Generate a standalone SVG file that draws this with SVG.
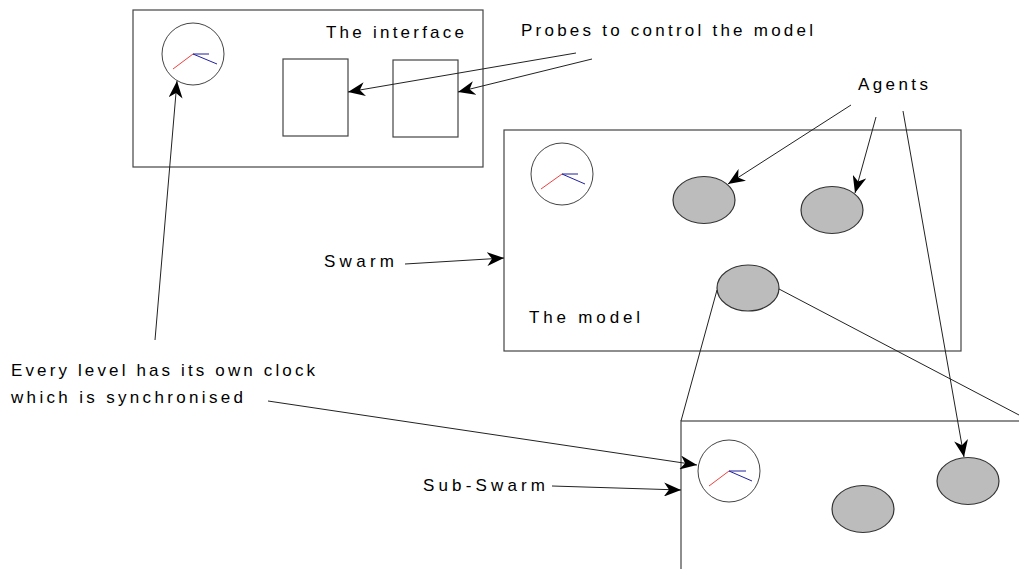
<svg xmlns="http://www.w3.org/2000/svg" width="1019" height="569" viewBox="0 0 1019 569">
<style>
text{font-family:"Liberation Sans",Arial,sans-serif;font-size:17px;fill:#000}
.box{fill:#fff;stroke:#444;stroke-width:1.2}
.clock{fill:#fff;stroke:#444;stroke-width:1}
.red{stroke:#f04040;stroke-width:1}
.blue{stroke:#2020a0;stroke-width:1}
.agent{fill:#bcbcbc;stroke:#333;stroke-width:1.2}
.conn line{stroke:#222;stroke-width:1;fill:none}
.arr{marker-end:url(#ah)}
</style>
<defs>
<marker id="ah" markerUnits="userSpaceOnUse" markerWidth="18" markerHeight="14" refX="17" refY="7" orient="auto">
<path d="M0,0 L17,7 L0,14 L5,7 Z" fill="#000"/>
</marker>
</defs>
<rect width="1019" height="569" fill="#fff"/>
<g id="interface">
<rect class="box" x="133" y="10" width="350" height="157"/>
<text x="326" y="38" textLength="138" lengthAdjust="spacing">The interface</text>
</g>
<g id="clock1">
<circle class="clock" cx="193" cy="54" r="31"/>
<line class="red" x1="173" y1="69" x2="193" y2="54"/>
<line class="blue" x1="193" y1="54" x2="209" y2="54"/>
<line class="blue" x1="193" y1="54" x2="217" y2="64"/>
</g>
<g id="probe1"><rect class="box" x="283" y="59" width="65" height="77"/></g>
<g id="probe2"><rect class="box" x="393" y="60" width="65" height="77"/></g>
<g id="model">
<rect class="box" x="504" y="130" width="457" height="221"/>
<text x="529" y="323" textLength="111" lengthAdjust="spacing">The model</text>
</g>
<g id="clock2">
<circle class="clock" cx="562" cy="174" r="31"/>
<line class="red" x1="541" y1="189" x2="562" y2="174"/>
<line class="blue" x1="562" y1="174" x2="578" y2="174"/>
<line class="blue" x1="562" y1="174" x2="585" y2="184"/>
</g>
<g id="agent1"><ellipse class="agent" cx="704" cy="200" rx="31" ry="23.5"/></g>
<g id="agent2"><ellipse class="agent" cx="832" cy="210" rx="31" ry="23.5"/></g>
<g id="agent3"><ellipse class="agent" cx="748" cy="288" rx="31" ry="23"/></g>
<g id="subswarm">
<rect class="box" x="681" y="421" width="400" height="200"/>
</g>
<g id="clock3">
<circle class="clock" cx="729" cy="471" r="31"/>
<line class="red" x1="709" y1="486" x2="729" y2="471"/>
<line class="blue" x1="729" y1="471" x2="746" y2="471"/>
<line class="blue" x1="729" y1="471" x2="752" y2="481"/>
</g>
<g id="subagent1"><ellipse class="agent" cx="863" cy="509" rx="31" ry="23.5"/></g>
<g id="subagent2"><ellipse class="agent" cx="968" cy="481" rx="31" ry="23.5"/></g>
<g id="labels">
<text x="521" y="36" textLength="292" lengthAdjust="spacing">Probes to control the model</text>
<text x="858" y="90" textLength="70" lengthAdjust="spacing">Agents</text>
<text x="324" y="267" textLength="70" lengthAdjust="spacing">Swarm</text>
<text x="11" y="376" textLength="304" lengthAdjust="spacing">Every level has its own clock</text>
<text x="11" y="403" textLength="232" lengthAdjust="spacing">which is synchronised</text>
<text x="423" y="491" textLength="122" lengthAdjust="spacing">Sub-Swarm</text>
</g>
<g id="connectors" class="conn">
<line class="arr" x1="576" y1="53" x2="348" y2="92"/>
<line class="arr" x1="592" y1="59" x2="458" y2="92"/>
<line class="arr" x1="155" y1="340" x2="177" y2="81"/>
<line class="arr" x1="851" y1="105" x2="728" y2="184"/>
<line class="arr" x1="876" y1="117" x2="855" y2="193"/>
<line class="arr" x1="903" y1="111" x2="964" y2="457"/>
<line class="arr" x1="405" y1="264" x2="504" y2="258"/>
<line class="arr" x1="268" y1="401" x2="697" y2="465"/>
<line class="arr" x1="552" y1="486" x2="681" y2="490"/>
<line x1="717" y1="290" x2="681" y2="421"/>
<line x1="779" y1="289" x2="1019" y2="415"/>
</g>
</svg>
